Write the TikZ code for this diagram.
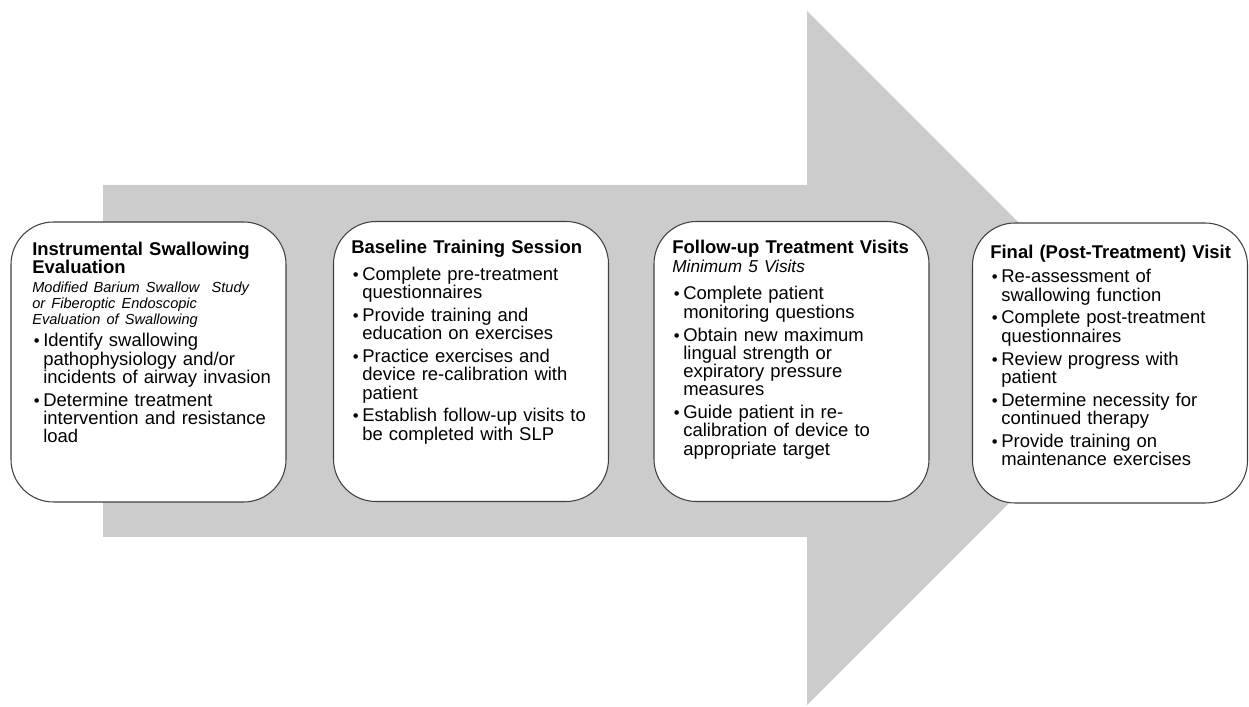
\documentclass[tikz,border=0pt]{standalone}
\usepackage{fontspec}
\setmainfont{Liberation Sans}
\usetikzlibrary{positioning}

\definecolor{arrowgray}{RGB}{204,204,204}
\definecolor{edgegray}{RGB}{64,64,64}

% one bullet with hanging indent (lines broken with \newline)
\newcommand{\bitem}[1]{\par\vspace{2.6pt}\hangindent=0.22cm\hangafter=1\noindent\makebox[0.22cm][l]{\hspace{0.03cm}{\fontsize{9.5}{9.5}\selectfont\textbullet}}#1\par}

\begin{document}
\begin{tikzpicture}[
    box/.style={rectangle, draw=edgegray, line width=0.6pt, fill=white, rounded corners=0.85cm, minimum width=5.5cm, minimum height=5.6cm},
    txt/.style={inner sep=0pt, text width=5.15cm, align=left, font=\fontsize{10.5}{10.4}\selectfont},
]
    \useasboundingbox (0,0) rectangle (24.98,14.12);

    % Arrow
    \fill[arrowgray] (2.06,10.42) -- (16.14,10.42) -- (16.14,13.9) -- (23.08,6.96)
        -- (16.14,0.02) -- (16.14,3.38) -- (2.06,3.38) -- cycle;

    % Boxes
    \node[box] (b1) at (2.97,6.88) {};
    \node[box] (b2) at (9.42,6.89) {};
    \node[box] (b3) at (15.83,6.89) {};
    \node[box] (b4) at (22.2,6.86) {};

    % Texts
    \node[txt, below right=0.4cm and 0.43cm of b1.north west] (t1) {%
        {\bfseries Instrumental Swallowing\\Evaluation\par}
        \vspace{1.5pt}
        {\itshape\fontsize{8.3}{9.1}\selectfont Modified Barium Swallow\ \ Study\newline or Fiberoptic Endoscopic\newline Evaluation of Swallowing\par}
        \bitem{Identify swallowing\newline pathophysiology and/or\newline incidents of airway invasion}
        \bitem{Determine treatment\newline intervention and resistance\newline load}};
    \node[txt, below right=0.38cm and 0.36cm of b2.north west] (t2) {%
        {\bfseries Baseline Training Session\par}
        \vspace{2.1pt}
        \bitem{Complete pre-treatment\newline questionnaires}
        \bitem{Provide training and\newline education on exercises}
        \bitem{Practice exercises and\newline device re-calibration with\newline patient}
        \bitem{Establish follow-up visits to\newline be completed with SLP}};
    \node[txt, below right=0.38cm and 0.37cm of b3.north west] (t3) {%
        {\bfseries Follow-up Treatment Visits\par}
        \vspace{0.6pt}
        {\itshape\fontsize{9.8}{10}\selectfont Minimum 5 Visits\par}
        \vspace{2.7pt}
        \bitem{Complete patient\newline monitoring questions}
        \bitem{Obtain new maximum\newline lingual strength or\newline expiratory pressure\newline measures}
        \bitem{Guide patient in re-\newline calibration of device to\newline appropriate target}};
    \node[txt, below right=0.44cm and 0.36cm of b4.north west] (t4) {%
        {\bfseries Final (Post-Treatment) Visit\par}
        \vspace{1pt}
        \bitem{Re-assessment of\newline swallowing function}
        \bitem{Complete post-treatment\newline questionnaires}
        \bitem{Review progress with\newline patient}
        \bitem{Determine necessity for\newline continued therapy}
        \bitem{Provide training on\newline maintenance exercises}};
\end{tikzpicture}
\end{document}
